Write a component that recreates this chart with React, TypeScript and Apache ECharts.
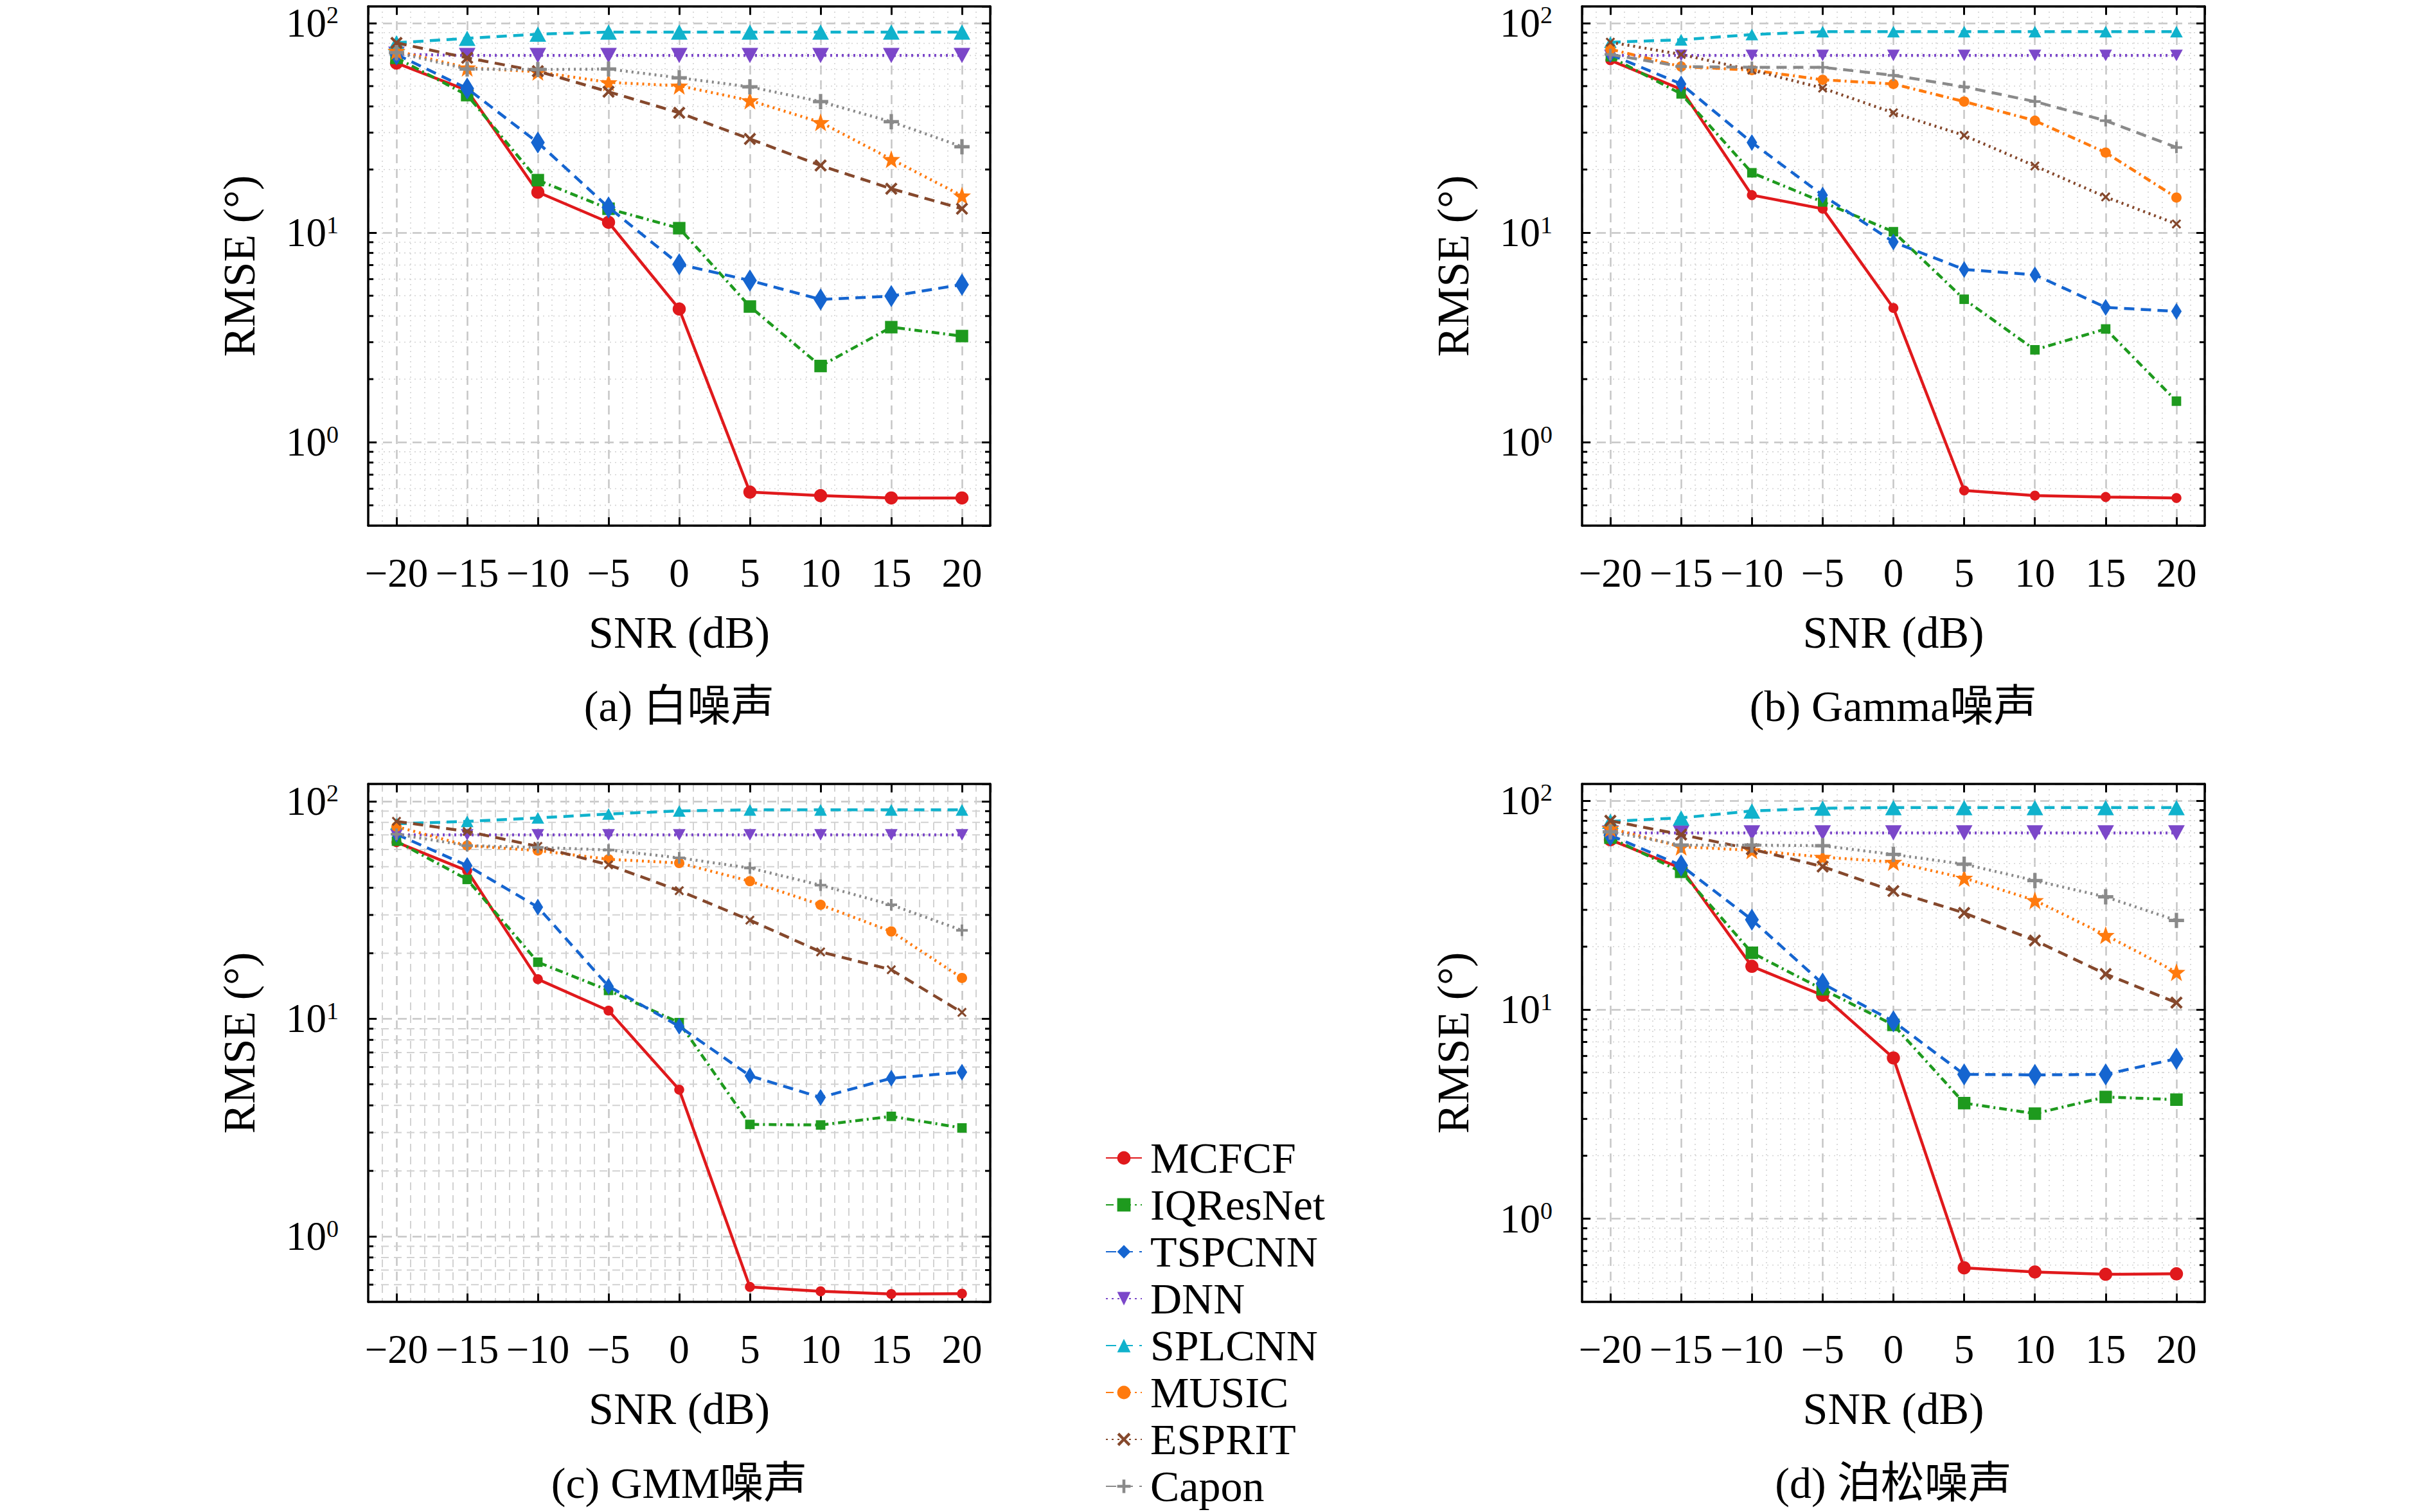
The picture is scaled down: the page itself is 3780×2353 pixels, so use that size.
import { useEffect, useRef } from 'react';
import * as echarts from 'echarts';

// SNR (dB) on the x axis, RMSE (deg) on a log y axis
const snr = [-20, -15, -10, -5, 0, 5, 10, 15, 20];
const methods = ['MCFCF', 'IQResNet', 'TSPCNN', 'DNN', 'SPLCNN', 'MUSIC', 'ESPRIT', 'Capon'];
const captions = ['(a) 白噪声', '(b) Gamma噪声', '(c) GMM噪声', '(d) 泊松噪声'];
const yMinorTicks = [0.5, 0.6, 0.7, 0.8, 0.9, 2, 3, 4, 5, 6, 7, 8, 9, 20, 30, 40, 50, 60, 70, 80, 90];
const yRanges = [[0.4, 120], [0.4, 120], [0.5, 120], [0.4, 120]];

// (a) white noise
const mcfcfA = [64.4, 47.7, 15.6, 11.2, 4.32, 0.578, 0.556, 0.542, 0.542];
const iqresA = [68.2, 45.3, 17.8, 13.0, 10.5, 4.44, 2.31, 3.54, 3.21];
const tspA = [70.8, 48.7, 26.9, 13.2, 7.06, 5.91, 4.8, 4.98, 5.65];
const dnnA = [71, 70, 70, 70, 70, 70, 70, 70, 70];
const splA = [80.5, 84.5, 88.5, 90.5, 90.5, 90.5, 90.5, 90.5, 90.5];
const musicA = [73.6, 61.2, 58.5, 52.1, 50.2, 42.7, 33.6, 22.4, 15.0];
const espritA = [80.4, 68.2, 58.9, 47.0, 37.3, 28.0, 20.9, 16.2, 13.0];
const caponA = [72.2, 60.3, 60.0, 60.3, 54.8, 49.6, 42.2, 33.8, 25.7];

// (b) Gamma noise
const mcfcfB = [66.4, 48.3, 15.1, 13.0, 4.37, 0.589, 0.556, 0.548, 0.542];
const iqresB = [69.0, 45.9, 19.3, 14.0, 10.1, 4.81, 2.76, 3.47, 1.57];
const tspB = [70.8, 51.2, 26.9, 15.1, 9.02, 6.67, 6.29, 4.4, 4.21];
const dnnB = [70, 70, 70, 70, 70, 70, 70, 70, 70];
const splB = [81, 83.2, 88.1, 90.9, 91, 91, 91, 91, 91];
const musicB = [75, 62, 59.6, 53.6, 51.2, 42.2, 34.2, 24.1, 14.7];
const espritB = [81, 70.8, 59.6, 48.9, 37.3, 29.1, 20.8, 14.8, 11.0];
const caponB = [70.8, 62, 61.5, 61.5, 56.3, 49.6, 42.2, 34.2, 25.5];

// (c) GMM noise
const mcfcfC = [64.8, 47.9, 15.2, 10.9, 4.72, 0.586, 0.559, 0.543, 0.545];
const iqresC = [65.5, 43.7, 18.2, 13.5, 9.6, 3.27, 3.25, 3.56, 3.15];
const tspC = [70.5, 50.6, 32.6, 14.1, 9.23, 5.47, 4.35, 5.33, 5.68];
const dnnC = [70, 70, 70, 70, 70, 70, 70, 70, 70];
const splC = [78.7, 80.8, 83.8, 87.3, 90.2, 91.2, 91.2, 91.2, 91.2];
const musicC = [76.4, 62.5, 59.3, 54.1, 52.0, 42.9, 33.4, 25.2, 15.4];
const espritC = [80.8, 72.6, 62.0, 51.0, 38.8, 28.4, 20.3, 16.8, 10.7];
const caponC = [70.5, 62.5, 61.3, 59.7, 54.9, 49.3, 41.1, 33.4, 25.5];

// (d) Poisson noise
const mcfcfD = [64.9, 47.4, 16.1, 11.7, 5.87, 0.582, 0.556, 0.542, 0.545];
const iqresD = [66.4, 45.6, 18.7, 12.5, 8.45, 3.57, 3.18, 3.82, 3.71];
const tspD = [68.2, 48.9, 26.9, 13.3, 8.78, 4.9, 4.87, 4.9, 5.82];
const dnnD = [70, 70, 70, 70, 70, 70, 70, 70, 70];
const splD = [79.5, 82.6, 89.1, 91.9, 92.5, 92.5, 92.5, 92.5, 92.5];
const musicD = [73.6, 60.1, 57.8, 53.6, 50.8, 42.6, 33.3, 22.7, 15.1];
const espritD = [80.0, 68.7, 58.5, 48.3, 36.9, 29.0, 21.4, 14.8, 10.8];
const caponD = [70.8, 61.2, 61.2, 60.8, 55.2, 49.6, 41.4, 34.6, 26.7];

const panels = [
  [mcfcfA, iqresA, tspA, dnnA, splA, musicA, espritA, caponA],
  [mcfcfB, iqresB, tspB, dnnB, splB, musicB, espritB, caponB],
  [mcfcfC, iqresC, tspC, dnnC, splC, musicC, espritC, caponC],
  [mcfcfD, iqresD, tspD, dnnD, splD, musicD, espritD, caponD],
];

const FONT = '"Liberation Serif", "Noto Sans CJK SC", serif';
const colors = ['#e0191c', '#1e9a1e', '#1565d0', '#7b47c9', '#10b2cc', '#ff7a0e', '#85482c', '#8a8a8a'];

const STAR = 'path://M0,-10 L2.35,-3.24 L9.51,-3.09 L3.8,1.24 L5.88,8.09 L0,4 L-5.88,8.09 L-3.8,1.24 L-9.51,-3.09 L-2.35,-3.24 Z';
const CROSS = 'path://M-10,-7 L-7,-10 L0,-3 L7,-10 L10,-7 L3,0 L10,7 L7,10 L0,3 L-7,10 L-10,7 L-3,0 Z';
const PLUS = 'path://M-2.2,-10 L2.2,-10 L2.2,-2.2 L10,-2.2 L10,2.2 L2.2,2.2 L2.2,10 L-2.2,10 L-2.2,2.2 L-10,2.2 L-10,-2.2 L-2.2,-2.2 Z';

const DASH = [16, 10];
const DOT = [3, 6];
const DASHDOT = [12, 6, 3, 6];

const boxes = [
  { left: 573, top: 10, width: 968, height: 808 },
  { left: 2462, top: 10, width: 969, height: 808 },
  { left: 573, top: 1220, width: 968, height: 806 },
  { left: 2462, top: 1220, width: 969, height: 806 },
];

function look(m: number, p: number) {
  const big = p === 0 || p === 3;
  const k = big ? 1.08 : 0.82;
  switch (m) {
    case 0: return { symbol: 'circle', size: 19 * k, rotate: 0, type: 'solid' };
    case 1: return { symbol: 'rect', size: 18 * k, rotate: 0, type: DASHDOT };
    case 2: return { symbol: 'diamond', size: [20 * k, 32 * k], rotate: 0, type: DASH };
    case 3: return { symbol: 'triangle', size: [24 * k, 22 * k], rotate: 180, type: DOT };
    case 4: return { symbol: 'triangle', size: [24 * k, 22 * k], rotate: 0, type: DASH };
    case 5:
      return big
        ? { symbol: STAR, size: 28, rotate: 0, type: DOT }
        : { symbol: 'circle', size: 16, rotate: 0, type: p === 1 ? DASHDOT : DOT };
    case 6: return { symbol: CROSS, size: 18 * k, rotate: 0, type: p === 1 ? DOT : DASH };
    default: return { symbol: PLUS, size: 22 * k, rotate: 0, type: p === 1 ? DASH : DOT };
  }
}

const fmtSnr = (v: number) => (v < 0 ? '\u2212' + Math.abs(v) : String(v));
const fmtPow = (v: number) => '{b|10}{s|' + Math.round(Math.log10(v)) + '}';

function buildOption() {
  const grid: any[] = [];
  const xAxis: any[] = [];
  const yAxis: any[] = [];
  const series: any[] = [];
  const graphic: any[] = [];

  boxes.forEach((b, g) => {
    const dashedMinor = g === 2;
    const minorStyle = dashedMinor
      ? { color: '#d2d2d2', width: 2, type: [12, 8] }
      : { color: '#d4d4d4', width: 1.6, type: [2, 6] };
    const frame = { show: true, onZero: false, lineStyle: { color: '#000', width: 3.5 } };
    const tick = { show: true, inside: true, length: 13, lineStyle: { color: '#000', width: 3 } };
    const [ymin, ymax] = yRanges[g];
    grid.push({ ...b, containLabel: false });

    xAxis.push({
      type: 'value', gridIndex: g, position: 'bottom', min: -22, max: 22, splitNumber: 9,
      name: 'SNR (dB)', nameLocation: 'middle', nameGap: 131,
      nameTextStyle: { fontFamily: FONT, fontSize: 70, color: '#000' },
      axisLine: frame, axisTick: tick,
      axisLabel: { margin: 42, fontFamily: FONT, fontSize: 63, color: '#000', showMinLabel: false, showMaxLabel: false, formatter: fmtSnr },
      splitLine: { show: true, lineStyle: { color: '#c6c6c6', width: 2.5, type: [14, 9] } },
      minorTick: { show: false, splitNumber: 5 },
      minorSplitLine: { show: true, lineStyle: minorStyle },
    });
    xAxis.push({
      type: 'value', gridIndex: g, position: 'top', min: -22, max: 22, splitNumber: 9,
      axisLine: frame, axisTick: tick, axisLabel: { show: false }, splitLine: { show: false },
    });
    yAxis.push({
      type: 'log', logBase: 10, gridIndex: g, position: 'left', min: ymin, max: ymax,
      name: 'RMSE (°)', nameLocation: 'middle', nameRotate: 90, nameGap: 166,
      nameTextStyle: { fontFamily: FONT, fontSize: 70, color: '#000' },
      axisLine: frame, axisTick: tick,
      axisLabel: {
        margin: 46, showMinLabel: false, showMaxLabel: false, formatter: fmtPow,
        rich: {
          b: { fontFamily: FONT, fontSize: 63, lineHeight: 63, color: '#000' },
          s: { fontFamily: FONT, fontSize: 38, lineHeight: 46, color: '#000', verticalAlign: 'top' },
        },
      },
      splitLine: { show: true, lineStyle: { color: '#c6c6c6', width: 2.5, type: [14, 9] } },
    });
    yAxis.push({
      type: 'log', logBase: 10, gridIndex: g, position: 'right', min: ymin, max: ymax,
      axisLine: frame, axisTick: tick, axisLabel: { show: false }, splitLine: { show: false },
    });

    // minor log grid lines and minor ticks on both sides
    series.push({
      type: 'custom', name: 'minor' + g, xAxisIndex: 2 * g, yAxisIndex: 2 * g, silent: true, z: 1,
      data: yMinorTicks.filter((v) => v > ymin && v < ymax).map((v) => [0, v]),
      encode: { x: 0, y: 1 },
      renderItem: (params: any, api: any) => {
        const cs = params.coordSys;
        const y = api.coord([0, api.value(1)])[1];
        const x0 = cs.x;
        const x1 = cs.x + cs.width;
        return {
          type: 'group',
          children: [
            { type: 'line', shape: { x1: x0, y1: y, x2: x1, y2: y }, style: { stroke: minorStyle.color, lineWidth: minorStyle.width, lineDash: minorStyle.type } },
            { type: 'line', shape: { x1: x0, y1: y, x2: x0 + 8, y2: y }, style: { stroke: '#000', lineWidth: 3 } },
            { type: 'line', shape: { x1: x1 - 8, y1: y, x2: x1, y2: y }, style: { stroke: '#000', lineWidth: 3 } },
          ],
        };
      },
    });

    graphic.push({
      type: 'text', x: b.left + b.width / 2, y: g < 2 ? 1099 : 2308,
      style: { text: captions[g], fontFamily: FONT, fontSize: 68, fill: '#000', align: 'center', verticalAlign: 'middle' },
    });
  });

  // panel (b) first so the legend takes its line styles
  [1, 0, 2, 3].forEach((p) => {
    methods.forEach((name, m) => {
      const lk = look(m, p);
      series.push({
        type: 'line', name, xAxisIndex: 2 * p, yAxisIndex: 2 * p, z: 3 + m,
        data: snr.map((x, i) => [x, panels[p][m][i]]),
        symbol: lk.symbol, symbolSize: lk.size, symbolRotate: lk.rotate,
        lineStyle: { color: colors[m], width: 4.5, type: lk.type },
        itemStyle: { color: colors[m], borderWidth: 0 },
        clip: true,
      });
    });
  });

  return {
    animation: false,
    backgroundColor: '#fff',
    grid,
    xAxis,
    yAxis,
    series,
    graphic,
    legend: {
      data: methods, orient: 'vertical', left: 1720, top: 1768, padding: 0,
      itemWidth: 56, itemHeight: 26, itemGap: 5, selectedMode: false,
      textStyle: { fontFamily: FONT, fontSize: 68, lineHeight: 68, color: '#000', padding: [0, 0, 0, 8] },
    },
  };
}

export default function App() {
  const chartRef = useRef<HTMLDivElement>(null);

  useEffect(() => {
    document.body.style.margin = '0';
    if (!chartRef.current) return;
    const chart = echarts.init(chartRef.current, undefined, { renderer: 'svg' });
    chart.setOption(buildOption() as any);
    return () => chart.dispose();
  }, []);

  return <div ref={chartRef} style={{ width: 3780, height: 2353, background: '#fff' }} />;
}
